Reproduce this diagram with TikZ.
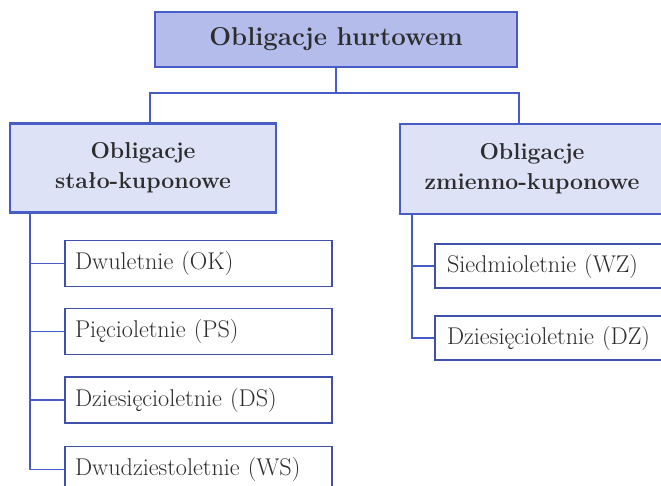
\documentclass[tikz,border=0pt]{standalone}
\definecolor{topfill}{RGB}{180,188,236}
\definecolor{midfill}{RGB}{222,226,247}
\definecolor{edge}{RGB}{72,92,200}
\definecolor{leafedge}{RGB}{62,80,170}
\definecolor{txt}{RGB}{45,45,45}
\begin{document}
\begin{tikzpicture}[x=1pt,y=-1pt,
  topbox/.style={draw=edge, line width=2.2pt, fill=topfill, minimum width=362pt, minimum height=55pt, inner sep=0pt, text=txt, font=\bfseries\fontsize{25.8}{30}\selectfont},
  midbox/.style={draw=edge, line width=2.2pt, fill=midfill, minimum height=89pt, inner sep=0pt, align=center, text=txt, font=\bfseries\fontsize{23}{30}\selectfont},
  leafbox/.style={draw=leafedge, line width=1.3pt, fill=white, minimum height=46pt, inner xsep=10pt, inner ysep=0pt, align=left, text=txt, font=\fontsize{24.2}{28}\selectfont},
  conn/.style={draw=edge, line width=1.8pt}]
\useasboundingbox (0,0) rectangle (661,486);
\node[topbox] (top) at (336,39.5) {Obligacje hurtowem};
\node[midbox, minimum width=266pt] (lm) at (143,168) {Obligacje\\stało-kuponowe};
\node[midbox, minimum width=264pt, minimum height=90pt] (rm) at (532,169) {Obligacje\\zmienno-kuponowe};
\node[leafbox, text width=247pt] (l1) at (198.5,263.5) {Dwuletnie (OK)};
\node[leafbox, text width=247pt] (l2) at (198.5,331.5) {Pięcioletnie (PS)};
\node[leafbox, text width=247pt] (l3) at (198.5,400) {Dziesięcioletnie (DS)};
\node[leafbox, text width=247pt] (l4) at (198.5,469.5) {Dwudziestoletnie (WS)};
\node[leafbox, text width=241pt, inner xsep=12pt, minimum height=44pt] (r1) at (567.5,266) {Siedmioletnie (WZ)};
\node[leafbox, text width=241pt, inner xsep=12pt, minimum height=44pt] (r2) at (567.5,338) {Dziesięcioletnie (DZ)};
\coordinate (j) at (top.south |- 0,93);
\coordinate (lmtop) at (150,125);
\coordinate (rmtop) at (519,125);
\coordinate (ltr) at (30,212);
\coordinate (rtr) at (412,214);
\draw[conn] (top.south) -- (j);
\draw[conn] (lmtop) |- (j) -| (rmtop);
\foreach \n in {l1,l2,l3,l4} \draw[conn] (ltr) |- (\n.west);
\foreach \n in {r1,r2} \draw[conn] (rtr) |- (\n.west);
\end{tikzpicture}
\end{document}
